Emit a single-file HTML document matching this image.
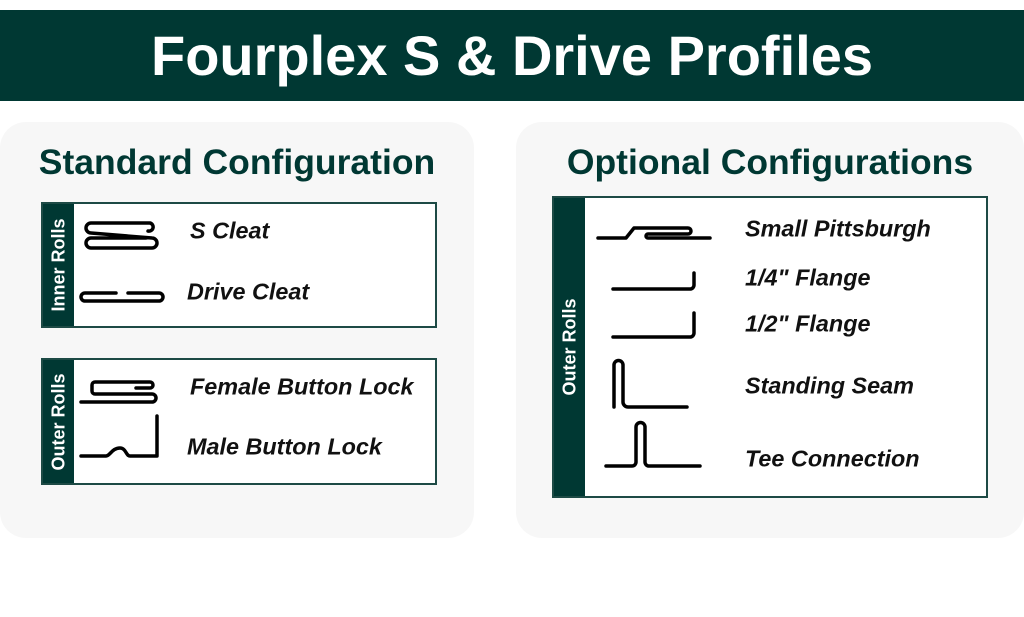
<!DOCTYPE html>
<html><head><meta charset="utf-8"><style>
body{margin:0;width:1024px;height:617px;background:#fff;position:relative;overflow:hidden;font-family:"Liberation Sans",sans-serif}
.hdr{position:absolute;left:0;top:10px;width:1024px;height:91px;background:#003833;color:#fff;font-weight:bold;font-size:56px;text-align:center;line-height:91px}
.card{position:absolute;top:122px;height:416px;background:#f7f7f7;border-radius:26px}
.h2{position:absolute;font-weight:bold;font-size:35.5px;color:#003833;text-align:center;width:100%}
.box{position:absolute;border:2px solid #1d4a45;background:#fff;box-sizing:border-box}
.side{position:absolute;left:0;top:0;bottom:0;width:31px;background:#003833}
.side span{position:absolute;left:50%;top:50%;transform:translate(-50%,-50%) rotate(-90deg);white-space:nowrap;color:#fff;font-weight:bold;font-size:18px}
.lbl{position:absolute;font-weight:bold;font-style:italic;font-size:23.4px;color:#111;transform:translateY(-50%);white-space:nowrap}
svg{position:absolute;left:0;top:0}
</style></head><body>
<div class="hdr">Fourplex S &amp; Drive Profiles</div>
<div class="card" style="left:0;width:474px"><div class="h2" style="top:20px">Standard Configuration</div></div>
<div class="card" style="left:516px;width:508px"><div class="h2" style="top:20px">Optional Configurations</div></div>
<div class="box" style="left:41px;top:202px;width:396px;height:126px"><div class="side"><span>Inner Rolls</span></div></div>
<div class="box" style="left:41px;top:358px;width:396px;height:127px"><div class="side"><span>Outer Rolls</span></div></div>
<div class="box" style="left:552px;top:196px;width:436px;height:302px"><div class="side"><span>Outer Rolls</span></div></div>
<svg width="1024" height="617" fill="none" stroke="#000" stroke-width="3.5" stroke-linecap="round" stroke-linejoin="round">
<path d="M148,231 A4,4 0 0 0 150,223 H91 A5,5 0 0 0 91,233 L152,238 A5,5 0 0 1 152,248 H91 A5,5 0 0 1 91,238 H146"/>
<path d="M116,293 H85 a4,4 0 0 0 0,8 H159 a4,4 0 0 0 0,-8 H128"/>
<path d="M136,388 H150 a3,3 0 0 0 0,-6 H95 a3,3 0 0 0 -3,3 V391 a3,3 0 0 0 3,3 H152 a4,4 0 0 1 0,8 H81"/>
<path d="M81,456 H106 C110,456 112,448 120,448 C126,448 126,456 130,456 H157 V416"/>
<path d="M598,238 H626 L634,228 H688 a3,3 0 0 1 0,6 H648 a2,2 0 0 0 0,4 H710"/>
<path d="M613,289 H690 a4,4 0 0 0 4,-4 V273"/>
<path d="M613,337 H690 a4,4 0 0 0 4,-4 V313"/>
<path d="M614,407 V365 a4.5,4.5 0 0 1 9,0 V402 a5,5 0 0 0 5,5 H687"/>
<path d="M606,466 H632 a4,4 0 0 0 4,-4 V427 a4.5,4.5 0 0 1 9,0 V462 a4,4 0 0 0 4,4 H700"/>
</svg>
<div class="lbl" style="left:190px;top:231px">S Cleat</div>
<div class="lbl" style="left:187px;top:292px">Drive Cleat</div>
<div class="lbl" style="left:190px;top:387px">Female Button Lock</div>
<div class="lbl" style="left:187px;top:447px">Male Button Lock</div>
<div class="lbl" style="left:745px;top:229px">Small Pittsburgh</div>
<div class="lbl" style="left:745px;top:278px">1/4" Flange</div>
<div class="lbl" style="left:745px;top:324px">1/2" Flange</div>
<div class="lbl" style="left:745px;top:386px">Standing Seam</div>
<div class="lbl" style="left:745px;top:459px">Tee Connection</div>
</body></html>
